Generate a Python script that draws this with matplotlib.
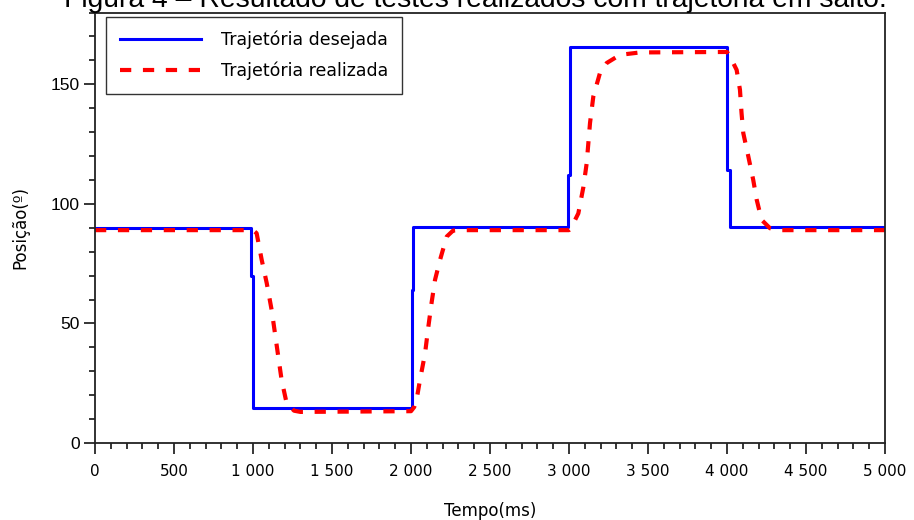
import numpy as np
import matplotlib.pyplot as plt
from matplotlib.ticker import MultipleLocator, FuncFormatter

# trajetoria desejada (degrau) - tempo em ms, posicao em graus
t_desejada = [0, 987, 987, 1000, 1000, 2005, 2005, 2012, 2012, 2994, 2994, 3006, 3006,
              4000, 4000, 4018, 4018, 5000]
pos_desejada = [90, 90, 70, 70, 14.5, 14.5, 64, 64, 90.5, 90.5, 112, 112, 165.5,
                165.5, 114, 114, 90.5, 90.5]

# trajetoria realizada
t_realizada = [0, 1000, 1023, 1055, 1087, 1118, 1139, 1160, 1181, 1213, 1260, 1300,
               2000, 2020, 2035, 2057, 2089, 2110, 2130, 2152, 2184, 2226, 2266, 2300,
               3000, 3010, 3059, 3091, 3112, 3133, 3154, 3196, 3239, 3323, 3449,
               4000, 4019, 4061, 4082, 4092, 4103, 4135, 4166, 4188, 4219, 4272, 4320, 5000]
pos_realizada = [89, 89, 87.7, 76.6, 66.8, 55.6, 45.9, 36.1, 26.4, 16.6, 13.5, 13,
                 13.3, 15, 18, 26.4, 37.5, 48.7, 58.5, 68.2, 76.6, 86.3, 88.8, 89,
                 89, 89.5, 96, 107, 117, 133.8, 144.9, 154.7, 158.9, 162.3, 163.3,
                 163.5, 161.6, 156, 147.7, 138, 129.6, 119.8, 110, 101.7, 93.3, 89.8, 89, 89]

fig = plt.figure(figsize=(9.14, 5.2), dpi=100)
ax = fig.add_axes([95/914, 77/520, 790/914, 430.5/520])

ax.plot(t_desejada, pos_desejada, color='#0000ff', lw=2.2, label='Trajetória desejada')
ax.plot(t_realizada, pos_realizada, color='#ff0000', lw=3.0, linestyle=(0, (2.7, 2.8)),
        label='Trajetória realizada')

ax.set_xlim(0, 5000)
ax.set_ylim(0, 180)

ax.xaxis.set_major_locator(MultipleLocator(500))
ax.xaxis.set_minor_locator(MultipleLocator(100))
ax.yaxis.set_major_locator(MultipleLocator(50))
ax.yaxis.set_minor_locator(MultipleLocator(10))
ax.xaxis.set_major_formatter(FuncFormatter(lambda v, p: f"{int(v):,}".replace(',', ' ')))

ax.tick_params(which='major', direction='out', length=8, width=1.1, color='black')
ax.tick_params(which='minor', direction='out', length=4, width=1.1, color='black')
ax.tick_params(axis='x', which='major', pad=7, labelsize=11)
ax.tick_params(axis='y', which='major', pad=3, labelsize=12.5)
for lab in ax.get_xticklabels():
    lab.set_family('Liberation Sans Narrow')
for lab in ax.get_yticklabels():
    lab.set_family('Liberation Sans')
for s in ax.spines.values():
    s.set_linewidth(1.3)
    s.set_color('#222222')

ax.set_xlabel('Tempo(ms)', fontsize=12, family='DejaVu Sans', labelpad=16.5)
ax.set_ylabel('Posição(º)', fontsize=12, family='DejaVu Sans', labelpad=15)

leg = ax.legend(loc='upper left', bbox_to_anchor=(0.0139, 0.9895), borderaxespad=0,
                frameon=True, fancybox=False, handlelength=4.7, borderpad=0.8,
                labelspacing=0.7, handletextpad=1.1,
                prop={'family': 'DejaVu Sans', 'size': 12.5})
leg.get_frame().set_edgecolor('black')
leg.get_frame().set_linewidth(1.0)

fig.text(475/914, 1 - 7/520, 'Figura 4 – Resultado de testes realizados com trajetória em salto.',
         ha='center', va='baseline', fontsize=20.3, family='Liberation Sans')

fig.savefig('out.png', dpi=100)
